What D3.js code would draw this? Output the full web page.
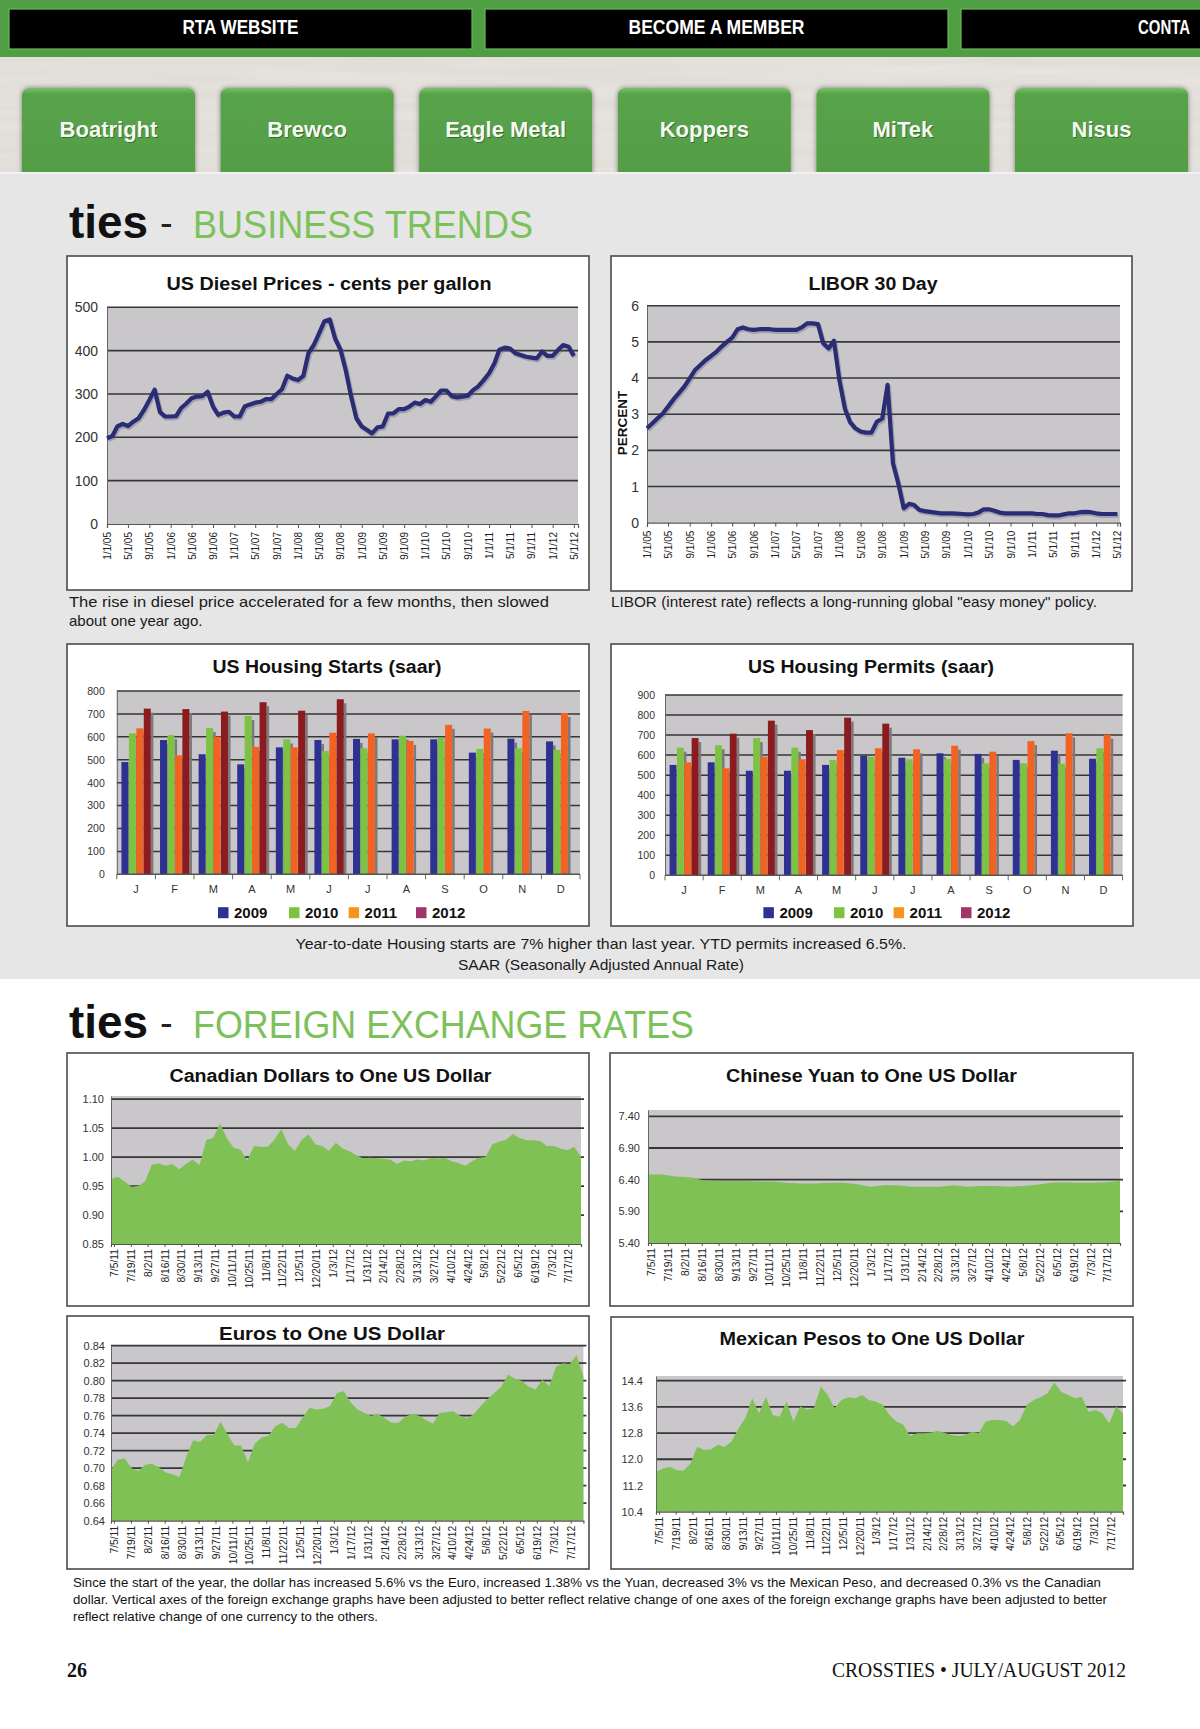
<!DOCTYPE html>
<html><head><meta charset="utf-8">
<script src="https://cdn.jsdelivr.net/npm/d3@7"></script>
<style>body{margin:0;background:#fff}svg{display:block}</style>
</head><body>
<svg id="page" width="1200" height="1729" xmlns="http://www.w3.org/2000/svg"></svg>
<script>
// ---------------- DATA ----------------
const navItems = ["RTA WEBSITE", "BECOME A MEMBER", "CONTA"];
const navWidths = [116, 176, 52];
const sponsorButtons = ["Boatright", "Brewco", "Eagle Metal", "Koppers", "MiTek", "Nisus"];

// monthly, 1/1/05 .. 5/1/12
const dieselPrices = [198,203,225,231,226,236,244,263,286,310,
  258,248,248,249,267,278,290,294,295,305,
  271,252,257,259,248,248,271,276,280,282,
  288,288,300,311,342,336,332,342,394,413,
  440,468,472,428,402,355,294,244,225,217,
  209,223,225,255,255,265,265,271,280,277,
  286,282,294,308,308,295,292,294,296,309,
  318,332,348,371,402,407,405,394,390,386,
  384,382,398,388,388,402,413,409,388];
const liborRates = [2.61,2.75,2.88,3.02,3.21,3.41,3.58,3.76,3.99,4.22,
  4.36,4.50,4.61,4.73,4.87,5.00,5.12,5.35,5.40,5.35,
  5.33,5.35,5.35,5.35,5.33,5.33,5.33,5.33,5.33,5.40,
  5.51,5.51,5.49,4.96,4.82,5.03,3.94,3.16,2.79,2.61,
  2.52,2.49,2.49,2.79,2.88,3.81,1.64,1.09,0.40,0.52,
  0.49,0.35,0.32,0.30,0.28,0.26,0.26,0.26,0.25,0.24,
  0.23,0.24,0.28,0.37,0.37,0.33,0.28,0.26,0.26,0.26,
  0.26,0.26,0.26,0.24,0.24,0.21,0.20,0.20,0.23,0.26,
  0.26,0.29,0.30,0.29,0.26,0.24,0.24,0.24,0.24];

const monthLabels = ["J","F","M","A","M","J","J","A","S","O","N","D"];
const yearSeries = ["2009","2010","2011","2012"];
const starts2009 = [490,586,524,480,554,586,591,589,589,531,592,580];
const starts2010 = [615,607,639,691,589,538,550,605,596,547,550,543];
const starts2011 = [637,519,601,556,554,618,615,582,652,636,713,704];
const starts2012 = [723,721,710,751,714,764];
const permits2009 = [551,564,522,522,551,597,587,609,606,576,622,582];
const permits2010 = [637,649,685,637,576,592,579,581,559,559,557,634];
const permits2011 = [564,534,592,579,625,634,629,647,617,670,709,702];
const permits2012 = [685,707,772,725,787,757];

const fxTickLabels = ["7/5/11","7/19/11","8/2/11","8/16/11","8/30/11","9/13/11","9/27/11","10/11/11","10/25/11","11/8/11","11/22/11","12/5/11","12/20/11","1/3/12","1/17/12","1/31/12","2/14/12","2/28/12","3/13/12","3/27/12","4/10/12","4/24/12","5/8/12","5/22/12","6/5/12","6/19/12","7/3/12","7/17/12"];
const cadRates = [0.962,0.966,0.958,0.949,0.950,0.958,0.987,0.989,0.985,0.988,
  0.979,0.988,0.996,0.986,1.030,1.033,1.058,1.033,1.016,1.013,
  0.994,1.019,1.018,1.018,1.030,1.048,1.022,1.011,1.030,1.039,
  1.022,1.019,1.011,1.025,1.015,1.010,1.003,0.998,0.999,0.998,
  0.997,0.996,0.988,0.994,0.993,0.996,0.994,0.999,0.997,0.999,
  0.993,0.990,0.985,0.993,0.999,1.000,1.022,1.027,1.030,1.040,
  1.033,1.029,1.029,1.028,1.019,1.019,1.015,1.012,1.018,1.000];
const cnyRates = [6.48,6.48,6.45,6.44,6.39,6.38,6.38,6.38,6.37,6.37,
  6.35,6.34,6.34,6.35,6.35,6.33,6.29,6.31,6.31,6.29,
  6.29,6.29,6.31,6.29,6.30,6.30,6.29,6.30,6.32,6.35,
  6.36,6.35,6.35,6.36,6.38];
const eurRates = [0.698,0.710,0.711,0.700,0.697,0.704,0.705,0.701,0.695,0.693,
  0.690,0.713,0.732,0.730,0.738,0.738,0.753,0.739,0.726,0.726,
  0.707,0.728,0.735,0.737,0.748,0.752,0.746,0.746,0.758,0.769,
  0.767,0.768,0.771,0.786,0.788,0.775,0.767,0.763,0.760,0.762,
  0.757,0.752,0.752,0.759,0.762,0.760,0.755,0.751,0.763,0.764,
  0.765,0.760,0.757,0.762,0.771,0.779,0.786,0.793,0.807,0.802,
  0.800,0.793,0.790,0.801,0.794,0.816,0.820,0.819,0.829,0.805];
const mxnRates = [11.62,11.72,11.77,11.67,11.65,11.86,12.38,12.28,12.30,12.44,
  12.38,12.54,12.94,13.25,13.86,13.40,13.91,13.35,13.30,13.76,
  13.15,13.61,13.52,13.56,14.22,13.96,13.56,13.81,13.89,13.86,
  13.96,13.81,13.76,13.66,13.35,13.15,13.05,12.71,12.79,12.79,
  12.81,12.87,12.81,12.74,12.71,12.74,12.84,12.79,13.15,13.20,
  13.20,13.17,13.00,13.20,13.66,13.81,13.89,14.01,14.34,14.06,
  13.96,13.86,13.91,13.45,13.50,13.40,13.10,13.61,13.40];

// ---------------- STYLE ----------------
const SANS = "'Liberation Sans', Arial, Helvetica, sans-serif";
const NARROW = "'Liberation Sans Narrow', 'Arial Narrow', 'Liberation Sans', sans-serif";
const SERIF = "'Liberation Serif', 'Times New Roman', serif";
const PLOT_BG = "#c9c7ca", GRID = "#363636", GREEN_AREA = "#80c156";
const barColors = ["#2e3192", "#7dc243", "#f26322", "#8c1b1f"];
const legendColors = ["#2e3192", "#7dc243", "#f7941d", "#a2356e"];

const svg = d3.select("#page");
const defs = svg.append("defs");
const noise = defs.append("filter").attr("id","noise").attr("x",0).attr("y",0).attr("width","100%").attr("height","100%");
noise.append("feTurbulence").attr("type","fractalNoise").attr("baseFrequency","0.004 0.09").attr("numOctaves",3).attr("seed",4);
noise.append("feColorMatrix").attr("values","0 0 0 0 0.45  0 0 0 0 0.43  0 0 0 0 0.40  0 0 0 0.22 0");
const shadow = defs.append("filter").attr("id","btnShadow").attr("x","-20%").attr("y","-20%").attr("width","140%").attr("height","140%");
shadow.append("feDropShadow").attr("dx",0).attr("dy",0).attr("stdDeviation",2.5).attr("flood-color","#000").attr("flood-opacity",0.45);
const btnGrad = defs.append("linearGradient").attr("id","btnGrad").attr("x1",0).attr("y1",0).attr("x2",0).attr("y2",1);
btnGrad.append("stop").attr("offset","0").attr("stop-color","#7cc06a");
btnGrad.append("stop").attr("offset","0.06").attr("stop-color","#58a34a");
btnGrad.append("stop").attr("offset","1").attr("stop-color","#529c45");

// ---------------- PAGE BACKGROUND / HEADER ----------------
svg.append("rect").attr("width",1200).attr("height",1729).attr("fill","#ffffff");
svg.append("rect").attr("width",1200).attr("height",57).attr("fill","#4f9e43");

const navX = d3.scaleBand().domain(navItems).range([9, 9 + 476 * 2 + 463]).paddingInner(13 / 476);
svg.append("g").selectAll("rect").data(navItems).join("rect")
  .attr("x", d => navX(d)).attr("y", 9).attr("width", navX.bandwidth()).attr("height", 40)
  .attr("fill", "#000").attr("stroke", "#69b65a").attr("stroke-width", 1.2);
svg.append("g").selectAll("text").data(navItems).join("text")
  .attr("x", (d, i) => i < 2 ? navX(d) + navX.bandwidth() / 2 : 1138)
  .attr("y", 34).attr("text-anchor", (d, i) => i < 2 ? "middle" : "start")
  .attr("font-family", SANS).attr("font-weight", "bold").attr("font-size", 20.5)
  .attr("textLength", (d, i) => navWidths[i]).attr("lengthAdjust", "spacingAndGlyphs")
  .attr("fill", "#fff").text(d => d);

svg.append("rect").attr("y",57).attr("width",1200).attr("height",116).attr("fill","#e9e6e1");
svg.append("rect").attr("y",57).attr("width",1200).attr("height",116).attr("filter","url(#noise)");

const btnX = d3.scaleBand().domain(sponsorButtons).range([22, 22 + 198.6 * 5 + 173]).paddingInner(25.6 / 198.6);
const btns = svg.append("g");
btns.selectAll("rect").data(sponsorButtons).join("rect")
  .attr("x", d => btnX(d)).attr("y", 88).attr("width", btnX.bandwidth()).attr("height", 100)
  .attr("rx", 7).attr("fill", "url(#btnGrad)").attr("filter", "url(#btnShadow)");
btns.selectAll("text.sh").data(sponsorButtons).join("text").attr("class","sh")
  .attr("x", d => btnX(d) + btnX.bandwidth() / 2 + 1).attr("y", 137.5).attr("text-anchor","middle")
  .attr("font-family", SANS).attr("font-weight","bold").attr("font-size",22).attr("fill","#2d5f26").attr("opacity",0.8).text(d => d);
btns.selectAll("text.lb").data(sponsorButtons).join("text").attr("class","lb")
  .attr("x", d => btnX(d) + btnX.bandwidth() / 2).attr("y", 136.5).attr("text-anchor","middle")
  .attr("font-family", SANS).attr("font-weight","bold").attr("font-size",22).attr("fill","#f4f8f2").text(d => d);

svg.append("rect").attr("y",173).attr("width",1200).attr("height",806).attr("fill","#e6e6e7");
svg.append("rect").attr("y",172).attr("width",1200).attr("height",2).attr("fill","#f1f1f1");

// ---------------- HELPERS ----------------
function sectionHeading(y, word, width) {
  const g = svg.append("g");
  g.append("text").attr("x", 69).attr("y", y).attr("font-family", SANS).attr("font-weight", "bold")
    .attr("font-size", 47).attr("fill", "#111").attr("textLength", 79).attr("lengthAdjust", "spacingAndGlyphs").text("ties");
  g.append("text").attr("x", 160).attr("y", y - 2).attr("font-family", SANS).attr("font-size", 38)
    .attr("fill", "#222").text("-");
  g.append("text").attr("x", 193).attr("y", y).attr("font-family", SANS).attr("font-size", 39)
    .attr("fill", "#7cc15a").attr("textLength", width).attr("lengthAdjust", "spacingAndGlyphs").text(word);
}
function chartBox(x, y, w, h) {
  svg.append("rect").attr("x", x).attr("y", y).attr("width", w).attr("height", h)
    .attr("fill", "#fff").attr("stroke", "#4a4a4a").attr("stroke-width", 1.6);
}
function chartTitle(cx, y, text, w) {
  svg.append("text").attr("x", cx).attr("y", y).attr("text-anchor", "middle")
    .attr("font-family", SANS).attr("font-weight", "bold").attr("font-size", 18).attr("fill", "#111")
    .attr("textLength", w).attr("lengthAdjust", "spacingAndGlyphs").text(text);
}
function styleYAxis(sel, size, font) {
  sel.select(".domain").attr("stroke", "#666").attr("stroke-width", 1);
  sel.selectAll("text").attr("font-family", font).attr("font-size", size).attr("fill", "#333");
}
function rotateXLabels(sel, off, size) {
  sel.selectAll("text").attr("transform", "rotate(-90)").attr("text-anchor", "end")
    .attr("x", -off).attr("y", 0).attr("dy", "0.35em")
    .attr("font-family", SANS).attr("font-size", size).attr("fill", "#222");
  sel.select(".domain").attr("stroke", "#555").attr("stroke-width", 1.2);
  sel.selectAll(".tick line").attr("stroke", "#555");
}

// ---------------- LINE CHARTS ----------------
function lineChart(o) {
  const g = svg.append("g");
  const months = d3.timeMonth.range(new Date(2005, 0, 1), new Date(2012, 4, 2));
  const x = d3.scaleTime().domain([new Date(2005, 0, 1), o.end]).range([o.left, o.right]);
  const y = d3.scaleLinear().domain(o.yDomain).range([o.bottom, o.top]);
  g.append("rect").attr("x", o.left).attr("y", o.top).attr("width", o.right - o.left)
    .attr("height", o.bottom - o.top).attr("fill", PLOT_BG);
  g.append("g").selectAll("line").data(o.yTicks.filter(v => v > o.yDomain[0])).join("line")
    .attr("x1", o.left).attr("x2", o.right).attr("y1", d => y(d)).attr("y2", d => y(d))
    .attr("stroke", GRID).attr("stroke-width", 1.6);
  const ya = g.append("g").attr("transform", `translate(${o.left},0)`)
    .call(d3.axisLeft(y).tickValues(o.yTicks).tickFormat(d3.format("d")).tickSize(0).tickPadding(o.yPad));
  styleYAxis(ya, 14, NARROW);
  const xTicks = d3.timeMonth.every(4).range(new Date(2005, 0, 1), new Date(2012, 4, 2));
  const xa = g.append("g").attr("transform", `translate(0,${o.bottom})`)
    .call(d3.axisBottom(x).tickValues(xTicks).tickFormat(d3.timeFormat("%-m/%-d/%y")).tickSize(4));
  rotateXLabels(xa, 8, 10);
  const pts = o.values.map((v, i) => ({ date: months[i], v }));
  const line = d3.line().x(d => x(d.date)).y(d => y(d.v));
  g.append("path").datum(pts).attr("d", line).attr("fill", "none").attr("stroke", "#5c5c80")
    .attr("stroke-width", 5).attr("stroke-linejoin", "round").attr("opacity", 0.35)
    .attr("transform", "translate(1,1.5)");
  g.append("path").datum(pts).attr("d", line).attr("fill", "none").attr("stroke", "#2a2c74")
    .attr("stroke-width", 4.2).attr("stroke-linejoin", "round");
  return g;
}

// ---------------- BAR CHARTS ----------------
function barChart(o) {
  const g = svg.append("g");
  const x = d3.scaleBand().domain(d3.range(12)).range([o.left, o.right]).paddingInner(0.24).paddingOuter(0.12);
  const xs = d3.scaleBand().domain(yearSeries).range([0, x.bandwidth()]).paddingInner(0.06);
  const y = d3.scaleLinear().domain(o.yDomain).range([o.bottom, o.top]);
  g.append("rect").attr("x", o.left).attr("y", o.top).attr("width", o.right - o.left)
    .attr("height", o.bottom - o.top).attr("fill", PLOT_BG);
  g.append("g").selectAll("line").data(y.ticks(o.yDomain[1] / 100).filter(v => v > 0)).join("line")
    .attr("x1", o.left).attr("x2", o.right).attr("y1", d => y(d)).attr("y2", d => y(d))
    .attr("stroke", GRID).attr("stroke-width", 1.5);
  const ya = g.append("g").attr("transform", `translate(${o.left},0)`)
    .call(d3.axisLeft(y).ticks(o.yDomain[1] / 100).tickSize(0).tickPadding(o.yPad));
  styleYAxis(ya, 10.5, SANS);
  const series = o.series;
  const cells = [];
  series.forEach((vals, si) => vals.forEach((v, mi) => cells.push({ m: mi, s: yearSeries[si], si, v })));
  g.append("g").selectAll("rect").data(cells).join("rect")
    .attr("x", d => x(d.m) + xs(d.s) + xs.bandwidth()).attr("y", d => y(d.v) + 4)
    .attr("width", 2.6).attr("height", d => o.bottom - y(d.v) - 4).attr("fill", "#7b7b7e");
  g.append("g").selectAll("rect").data(cells).join("rect")
    .attr("x", d => x(d.m) + xs(d.s)).attr("y", d => y(d.v))
    .attr("width", xs.bandwidth()).attr("height", d => o.bottom - y(d.v)).attr("fill", d => barColors[d.si]);
  // x axis
  const step = x.step();
  g.append("line").attr("x1", o.left).attr("x2", o.right).attr("y1", o.bottom).attr("y2", o.bottom)
    .attr("stroke", "#555").attr("stroke-width", 1.4);
  g.append("g").selectAll("line").data(d3.range(13)).join("line")
    .attr("x1", d => o.left + d * step).attr("x2", d => o.left + d * step)
    .attr("y1", o.bottom).attr("y2", o.bottom + 5).attr("stroke", "#666");
  const xa = g.append("g").attr("transform", `translate(0,${o.bottom})`)
    .call(d3.axisBottom(x).tickFormat(i => monthLabels[i]).tickSize(0).tickPadding(11));
  xa.select(".domain").remove();
  xa.selectAll("text").attr("font-family", SANS).attr("font-size", 11).attr("fill", "#333");
  // legend
  const lg = g.append("g");
  yearSeries.forEach((yr, i) => {
    lg.append("rect").attr("x", o.legendX[i]).attr("y", o.legendY - 5.5).attr("width", 10.5).attr("height", 11)
      .attr("fill", legendColors[i]);
    lg.append("text").attr("x", o.legendX[i] + 16).attr("y", o.legendY + 5.5)
      .attr("font-family", SANS).attr("font-weight", "bold").attr("font-size", 15).attr("fill", "#111").text(yr);
  });
}

// ---------------- AREA CHARTS ----------------
function areaChart(o) {
  const g = svg.append("g");
  const d0 = -2.5, d1 = 388.5;
  const x = d3.scaleLinear().domain([d0, d1]).range([o.left, o.right]);
  const y = d3.scaleLinear().domain(o.yDomain).range([o.bottom, o.top]);
  g.append("rect").attr("x", o.left).attr("y", o.top).attr("width", o.right - o.left)
    .attr("height", o.bottom - o.top).attr("fill", PLOT_BG);
  g.append("g").selectAll("line").data(o.yTicks.filter(v => v > o.yDomain[0])).join("line")
    .attr("x1", o.left).attr("x2", o.right + 3).attr("y1", d => y(d)).attr("y2", d => y(d))
    .attr("stroke", GRID).attr("stroke-width", 1.8);
  const n = o.values.length;
  const pts = o.values.map((v, i) => ({ day: d0 + i * (d1 - d0) / (n - 1), v }));
  g.append("path").datum(pts).attr("fill", GREEN_AREA)
    .attr("d", d3.area().x(d => x(d.day)).y0(o.bottom).y1(d => y(d.v)));
  const ya = g.append("g").attr("transform", `translate(${o.left},0)`)
    .call(d3.axisLeft(y).tickValues(o.yTicks).tickFormat(d3.format(o.fmt)).tickSize(0).tickPadding(o.yPad));
  styleYAxis(ya, 11, SANS);
  const xa = g.append("g").attr("transform", `translate(0,${o.bottom})`)
    .call(d3.axisBottom(x).tickValues(fxTickLabels.map((d, i) => i * 14)).tickFormat((d, i) => fxTickLabels[i]).tickSize(3));
  rotateXLabels(xa, 5, 10.3);
}

// ---------------- SECTION 1 ----------------
sectionHeading(238, "BUSINESS TRENDS", 340);

chartBox(67, 256, 522, 334);
chartTitle(329, 289.5, "US Diesel Prices - cents per gallon", 325);
lineChart({ left: 107, right: 578, top: 307.3, bottom: 524, yDomain: [0, 500], yTicks: [0,100,200,300,400,500],
  yPad: 9, end: new Date(2012, 4, 25), values: dieselPrices });

chartBox(611, 256, 521, 335);
chartTitle(873, 289.5, "LIBOR 30 Day", 129);
lineChart({ left: 647, right: 1120, top: 305.7, bottom: 522.7, yDomain: [0, 6], yTicks: [0,1,2,3,4,5,6],
  yPad: 8, end: new Date(2012, 4, 16), values: liborRates });
svg.append("text").attr("transform", "translate(627,423) rotate(-90)").attr("text-anchor", "middle")
  .attr("font-family", SANS).attr("font-weight", "bold").attr("font-size", 13.5).attr("fill", "#111").text("PERCENT");

const capStyle = s => s.attr("font-family", SANS).attr("font-size", 15).attr("fill", "#1a1a1a");
capStyle(svg.append("text").attr("x", 69).attr("y", 607).attr("textLength", 480).attr("lengthAdjust","spacingAndGlyphs"))
  .text("The rise in diesel price accelerated for a few months, then slowed");
capStyle(svg.append("text").attr("x", 69).attr("y", 626)).text("about one year ago.");
capStyle(svg.append("text").attr("x", 611).attr("y", 607).attr("textLength", 486).attr("lengthAdjust","spacingAndGlyphs"))
  .text("LIBOR (interest rate) reflects a long-running global \"easy money\" policy.");

chartBox(67, 644, 522, 282);
chartTitle(327, 673, "US Housing Starts (saar)", 229);
barChart({ left: 116.8, right: 580, top: 691, bottom: 874.3, yDomain: [0, 800], yPad: 12,
  series: [starts2009, starts2010, starts2011, starts2012], legendX: [218, 289, 348.6, 416], legendY: 912.7 });

chartBox(611, 644, 522, 282);
chartTitle(871, 673, "US Housing Permits (saar)", 246);
barChart({ left: 665, right: 1122.6, top: 695, bottom: 875.3, yDomain: [0, 900], yPad: 10,
  series: [permits2009, permits2010, permits2011, permits2012], legendX: [763.4, 834, 893.6, 961], legendY: 912.7 });

svg.append("text").attr("x", 601).attr("y", 949).attr("text-anchor", "middle").attr("font-family", SANS)
  .attr("font-size", 14.5).attr("fill", "#1a1a1a").attr("textLength", 611).attr("lengthAdjust","spacingAndGlyphs")
  .text("Year-to-date Housing starts are 7% higher than last year. YTD permits increased 6.5%.");
svg.append("text").attr("x", 601).attr("y", 970).attr("text-anchor", "middle").attr("font-family", SANS)
  .attr("font-size", 14.5).attr("fill", "#1a1a1a").attr("textLength", 286).attr("lengthAdjust","spacingAndGlyphs")
  .text("SAAR (Seasonally Adjusted Annual Rate)");

// ---------------- SECTION 2 ----------------
sectionHeading(1038, "FOREIGN EXCHANGE RATES", 501);

chartBox(67, 1053, 522, 253);
chartTitle(330.5, 1081.5, "Canadian Dollars to One US Dollar", 322);
areaChart({ left: 111, right: 581, top: 1096, bottom: 1244, yDomain: [0.85, 1.1055], yTicks: [0.85,0.90,0.95,1.00,1.05,1.10],
  fmt: ".2f", yPad: 7, values: cadRates });

chartBox(610, 1053, 523, 253);
chartTitle(871.5, 1081.5, "Chinese Yuan to One US Dollar", 291);
areaChart({ left: 648, right: 1120, top: 1110, bottom: 1243, yDomain: [5.4, 7.5], yTicks: [5.4,5.9,6.4,6.9,7.4],
  fmt: ".2f", yPad: 8, values: cnyRates });

chartBox(67, 1316, 522, 253);
chartTitle(332, 1339.5, "Euros to One US Dollar", 226);
areaChart({ left: 111, right: 583.4, top: 1345.7, bottom: 1520.7, yDomain: [0.64, 0.84],
  yTicks: [0.64,0.66,0.68,0.70,0.72,0.74,0.76,0.78,0.80,0.82,0.84], fmt: ".2f", yPad: 6, values: eurRates });

chartBox(611, 1317, 522, 252);
chartTitle(872, 1344.5, "Mexican Pesos to One US Dollar", 305);
areaChart({ left: 656, right: 1123, top: 1376, bottom: 1511.7, yDomain: [10.4, 14.54],
  yTicks: [10.4,11.2,12.0,12.8,13.6,14.4], fmt: ".1f", yPad: 13, values: mxnRates });

// ---------------- FOOTNOTE / FOOTER ----------------
const note = [
  ["Since the start of the year, the dollar has increased 5.6% vs the Euro, increased 1.38% vs the Yuan, decreased 3% vs the Mexican Peso, and decreased 0.3% vs the Canadian", 1028],
  ["dollar. Vertical axes of the foreign exchange graphs have been adjusted to better reflect relative change of one axes of the foreign exchange graphs have been adjusted to better", 1034],
  ["reflect relative change of one currency to the others.", 305]
];
svg.append("g").selectAll("text").data(note).join("text")
  .attr("x", 73).attr("y", (d, i) => 1587 + i * 17).attr("font-family", NARROW).attr("font-size", 13.5)
  .attr("fill", "#111").attr("textLength", d => d[1]).attr("lengthAdjust", "spacingAndGlyphs").text(d => d[0]);

svg.append("text").attr("x", 67).attr("y", 1677).attr("font-family", SERIF).attr("font-weight", "bold")
  .attr("font-size", 20).attr("fill", "#111").text("26");
svg.append("text").attr("x", 1126).attr("y", 1677).attr("text-anchor", "end").attr("font-family", SERIF)
  .attr("font-size", 20).attr("fill", "#111").attr("textLength", 294).attr("lengthAdjust", "spacingAndGlyphs")
  .text("CROSSTIES • JULY/AUGUST 2012");
</script>
</body></html>
